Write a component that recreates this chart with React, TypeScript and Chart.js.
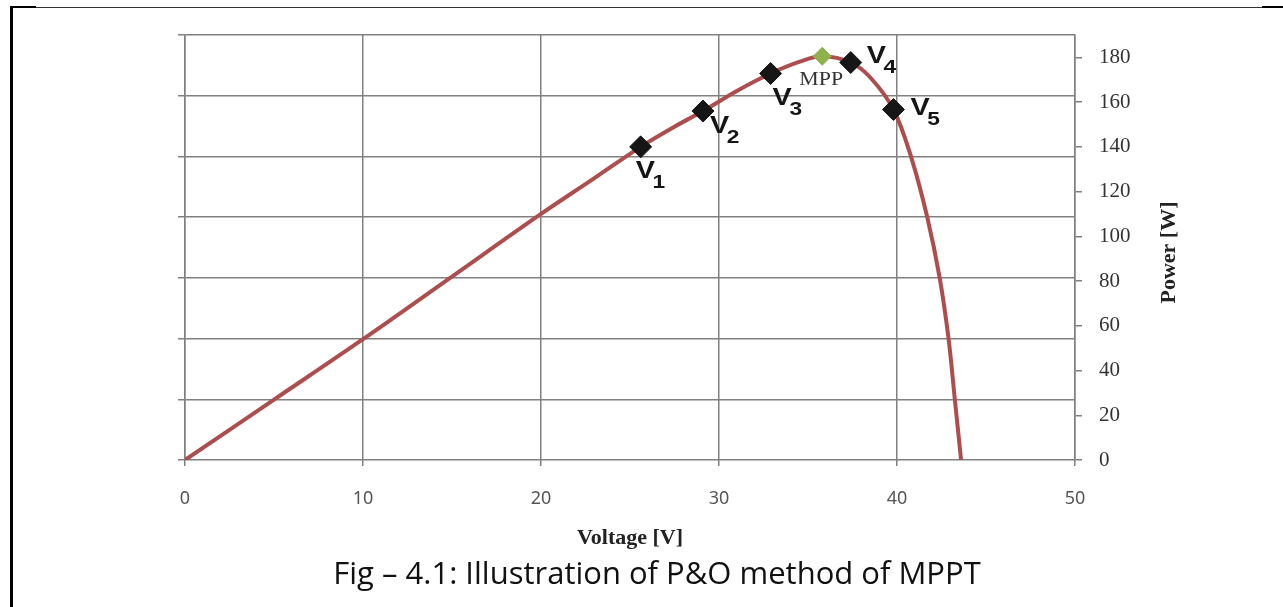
import React, { useEffect, useRef } from 'react';
import { Chart, registerables } from 'chart.js';

Chart.register(...registerables);

// P-V curve (Voltage [V] -> Power [W])
const curveVoltage = [0, 5, 10, 15, 20, 23, 25.6, 27.5, 29.1, 31, 32.9, 34.5, 35.8, 37.4, 38.5, 39.8, 40.8, 41.7, 42.4, 42.9, 43.25, 43.6];
const curvePower = [0, 27, 54, 82, 110, 126, 140, 149, 156, 165, 172.8, 178, 180.5, 177.7, 171, 156.7, 135.3, 108.5, 81.3, 54, 27, 0];

// Operating points of the P&O method
const pointSubscripts = ['1', '2', '3', '4', '5'];
const pointVoltage = [25.6, 29.1, 32.9, 37.4, 39.8];
const pointPower = [140, 156, 172.8, 177.7, 156.7];

// Maximum power point
const mppVoltage = [35.8];
const mppPower = [180.5];

// Axes
const xMin = 0;
const xMax = 50;
const xStep = 10;
const yMin = 0;
const yMax = 190;
const yStep = 20;
const gridRows = 7;

const xTitle = 'Voltage [V]';
const yTitle = 'Power [W]';
const caption = 'Fig \u2013 4.1: Illustration of P&O method of MPPT';
const mppLabel = 'MPP';

// label placement (V glyph left / baseline relative to marker centre)
const labelOffsets = [[-5, 31], [7, 22], [2, 32], [16, 0], [17, 6]];

const GRID = '#808080';

const extrasPlugin = {
  id: 'extras',
  afterDraw(chart: any) {
    const ctx = chart.ctx as CanvasRenderingContext2D;
    const area = chart.chartArea;
    ctx.save();

    // point labels V1..V5
    const meta = chart.getDatasetMeta(1);
    meta.data.forEach((el: any, i: number) => {
      const [dx, dy] = labelOffsets[i];
      ctx.save();
      ctx.translate(el.x + dx, el.y + dy);
      ctx.scale(1.2, 1);
      ctx.fillStyle = '#151515';
      ctx.textAlign = 'left';
      ctx.textBaseline = 'alphabetic';
      ctx.font = 'bold 24px "Liberation Sans", Arial, sans-serif';
      ctx.fillText('V', 0, 0);
      const w = ctx.measureText('V').width;
      ctx.font = 'bold 19px "Liberation Sans", Arial, sans-serif';
      ctx.fillText(pointSubscripts[i], w - 2, 10);
      ctx.restore();
    });

    // MPP label
    const mpp = chart.getDatasetMeta(2).data[0];
    if (mpp) {
      ctx.save();
      ctx.translate(mpp.x - 1, mpp.y + 29);
      ctx.scale(1.15, 1);
      ctx.fillStyle = '#333';
      ctx.font = '19px "Liberation Serif", "Times New Roman", serif';
      ctx.textAlign = 'center';
      ctx.textBaseline = 'alphabetic';
      ctx.fillText(mppLabel, 0, 0);
      ctx.restore();
    }

    // axis titles
    ctx.fillStyle = '#222';
    ctx.font = 'bold 22px "Liberation Serif", "Times New Roman", serif';
    ctx.textAlign = 'center';
    ctx.textBaseline = 'middle';
    ctx.fillText(xTitle, (area.left + area.right) / 2, 538);

    ctx.save();
    ctx.translate(1169, (area.top + area.bottom) / 2 + 5);
    ctx.rotate(-Math.PI / 2);
    ctx.fillText(yTitle, 0, 0);
    ctx.restore();

    // caption
    ctx.fillStyle = '#111';
    ctx.font = '31px "Open Sans", "Noto Sans", sans-serif';
    ctx.textAlign = 'center';
    ctx.textBaseline = 'middle';
    ctx.fillText(caption, 657, 575);

    // frame
    ctx.fillStyle = '#000';
    ctx.fillRect(10, 7, 3, 600);
    ctx.fillStyle = '#333';
    ctx.fillRect(10, 7, 1273, 1);
    ctx.fillStyle = '#000';
    ctx.fillRect(10, 6, 26, 2);
    ctx.fillRect(1262, 6, 21, 2);

    ctx.restore();
  },
};

export default function App() {
  const ref = useRef<HTMLCanvasElement | null>(null);

  useEffect(() => {
    if (!ref.current) return;
    const curve = curveVoltage.map((v, i) => ({ x: v, y: curvePower[i] }));
    const pts = pointVoltage.map((v, i) => ({ x: v, y: pointPower[i] }));
    const mpp = mppVoltage.map((v, i) => ({ x: v, y: mppPower[i] }));

    const chart = new Chart(ref.current, {
      type: 'scatter',
      data: {
        datasets: [
          {
            data: curve,
            showLine: true,
            borderColor: '#ad4d4d',
            borderWidth: 4,
            pointRadius: 0,
            tension: 0.35,
            yAxisID: 'y',
            order: 3,
          },
          {
            data: pts,
            showLine: false,
            pointStyle: 'rectRot',
            pointRadius: 11,
            backgroundColor: '#161616',
            borderColor: '#161616',
            borderWidth: 1,
            yAxisID: 'y',
            order: 1,
          },
          {
            data: mpp,
            showLine: false,
            pointStyle: 'rectRot',
            pointRadius: 9,
            backgroundColor: '#8fb24f',
            borderColor: '#8fb24f',
            borderWidth: 1,
            yAxisID: 'y',
            order: 2,
          },
        ],
      },
      options: {
        responsive: false,
        animation: false,
        layout: { padding: { top: 35, left: 0, right: 0, bottom: 0 } },
        plugins: {
          legend: { display: false },
          tooltip: { enabled: false },
          title: { display: false },
        },
        scales: {
          x: {
            type: 'linear',
            min: xMin,
            max: xMax,
            ticks: {
              stepSize: xStep,
              color: '#555',
              font: { family: '"Noto Sans", sans-serif', size: 18 },
              padding: 22,
            },
            grid: { color: GRID, lineWidth: 1.5, tickLength: 6 },
            border: { display: false },
            afterFit: (s: any) => { s.height = 147; },
          },
          y: {
            type: 'linear',
            position: 'right',
            min: yMin,
            max: yMax,
            ticks: {
              stepSize: yStep,
              includeBounds: false,
              color: '#333',
              font: { family: '"Liberation Serif", "Times New Roman", serif', size: 21 },
              padding: 17,
            },
            grid: { drawOnChartArea: false, color: GRID, lineWidth: 1.5, tickLength: 7 },
            border: { display: true, color: GRID, width: 1.5 },
            afterFit: (s: any) => { s.width = 208; },
          },
          grid: {
            type: 'linear',
            position: 'left',
            min: 0,
            max: gridRows,
            ticks: { stepSize: 1, display: false },
            grid: { color: GRID, lineWidth: 1.5, tickLength: 7 },
            border: { display: true, color: GRID, width: 1.5 },
            afterFit: (s: any) => { s.width = 185; },
          },
        },
      },
      plugins: [extrasPlugin],
    } as any);

    return () => chart.destroy();
  }, []);

  return (
    <div style={{ position: 'absolute', left: 0, top: 0, width: 1283, height: 607, background: '#fff' }}>
      <canvas ref={ref} width={1283} height={607} />
    </div>
  );
}
